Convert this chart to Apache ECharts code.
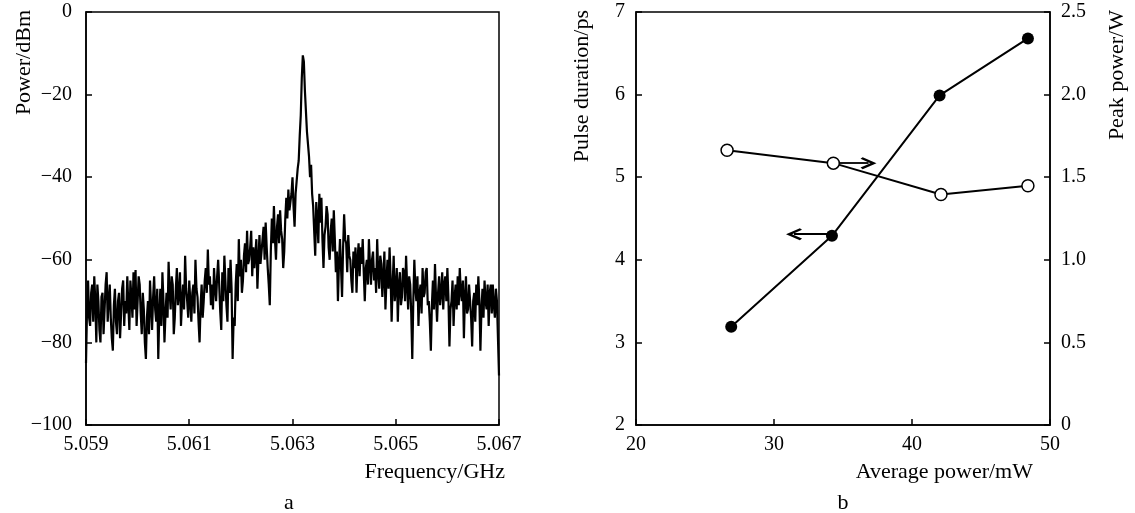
<!DOCTYPE html>
<html><head><meta charset="utf-8">
<script src="https://cdn.jsdelivr.net/npm/echarts@6/dist/echarts.min.js"></script>
<style>html,body{margin:0;padding:0;background:#fff}#c{width:1135px;height:513px}</style>
</head><body><div id="c"></div><script>
// ---- Panel a: RF spectrum (sampling grid + values) ----
const freqStart = 5.059;
const freqStep = 0.00002;
const spectrumDbm = [
  -85,-72, -65,-74, -76,-68, -66,-75, -64,-70, -80,-66, -70,-77, -80,-69, -68,-78, -72,-66,
  -63,-75, -70,-66, -74,-79, -82,-71, -67,-75, -78,-70, -68,-79, -73,-67, -65,-76, -70,-73,
  -64,-71, -77,-65, -69,-74, -63,-72, -62.5,-76, -70,-64, -66,-73, -78,-68, -72,-80, -84,-74,
  -70,-78, -65,-71, -77,-69, -64,-72, -75,-67, -84,-73, -67,-76, -63,-70, -80,-73, -68,-74,
  -60.5,-68, -72,-64, -66,-78, -74,-67, -62,-71, -68,-63, -76,-70, -66,-72, -59,-67, -70,-74,
  -65,-70, -75,-68, -66,-73, -60,-67, -69,-75, -80,-71, -66,-74, -70,-65, -62,-68, -57.5,-66,
  -64,-71, -66,-72, -62,-67, -70,-64, -60,-66, -72.5,-77, -63,-70, -59,-65, -71,-75, -62,-68,
  -60,-67, -84,-74, -76,-66, -61,-70, -55,-64, -60,-68, -65,-59, -56,-63, -53,-61, -60,-57,
  -53,-64, -57,-62, -62,-55, -67,-60, -54,-61, -58,-55, -52,-60, -51,-57, -62,-66, -71,-58,
  -50,-56, -47,-55, -60,-52, -49,-56, -48,-53, -55,-62, -58,-50, -45,-50, -43,-48, -46,-44,
  -40,-47, -52,-44, -41,-38, -36,-30, -25,-16, -10.5,-12, -19,-24, -29,-32, -35,-40, -37,-44,
  -47,-53, -59,-46, -50,-56, -44,-51, -45,-55, -62,-54, -52,-47, -49,-57, -60,-53, -50,-58,
  -48,-55, -63,-58, -70,-61, -55,-62, -69,-57, -49,-55, -56,-63, -54,-59, -60,-65, -68,-58,
  -62,-57, -68,-60, -56,-64, -57,-61, -55,-63, -70,-62, -60,-66, -55,-61, -66,-60, -58,-65,
  -62,-68, -55,-63, -67,-59, -61,-69, -64,-58, -72,-65, -60,-67, -57,-64, -75,-66, -59,-70,
  -67,-62, -75,-66, -63,-71, -69,-62, -63,-70, -59,-66, -72,-64, -66,-73, -84,-70, -60,-67,
  -70,-64, -76,-68, -66,-73, -62,-69, -68,-63, -62,-71, -70,-75, -82,-71, -65,-72, -61,-69,
  -75,-68, -64,-71, -68,-63, -72,-66, -64,-70, -62,-69, -81,-72, -70,-65, -76,-69, -66,-72,
  -64,-71, -62,-68, -70,-65, -79,-69, -64,-73, -72,-66, -66,-74, -81,-70, -68,-75, -66,-71,
  -64,-70, -82,-72, -67,-74, -65,-70, -72,-66, -76,-68, -66,-73, -66,-71, -74,-67, -70,-79,
  -88
];
const freqTicks = [5.059, 5.061, 5.063, 5.065, 5.067];

// ---- Panel b ----
const avgPowerFilled = [26.9, 34.2, 42.0, 48.4];
const pulseDuration = [3.19, 4.29, 5.99, 6.68];
const avgPowerOpen = [26.6, 34.3, 42.1, 48.4];
const peakPower = [1.663, 1.585, 1.395, 1.448];
// arrows: [x start, x end, y]
const arrowPulse = [34.2, 31.45, 4.31];
const arrowPeak = [34.7, 36.85, 1.585];

const FONT = '"Liberation Serif", "Times New Roman", serif';
const FS = 20;
const NFS = 22;
const minusFmt = v => v < 0 ? '\u2212' + Math.abs(v) : String(v);
const axisLineStyle = { color: '#000', width: 1.5 };
const chevron = 'path://M50,0 L100,78 L86,90 L50,34 L14,90 L0,78 Z';

const chart = echarts.init(document.getElementById('c'), null, { renderer: 'canvas' });

function yNameText(text, x, y) {
  return { type: 'text', x: x, y: y, rotation: Math.PI / 2,
    style: { text: text, fill: '#000', font: NFS + 'px ' + FONT, align: 'right', verticalAlign: 'middle' } };
}
function hText(text, x, y, align) {
  return { type: 'text', x: x, y: y,
    style: { text: text, fill: '#000', font: NFS + 'px ' + FONT, align: align, verticalAlign: 'middle' } };
}

chart.setOption({
  animation: false,
  backgroundColor: '#fff',
  textStyle: { fontFamily: FONT, color: '#000' },
  grid: [
    { left: 86, top: 12, width: 413, height: 413, show: true, borderColor: '#000', borderWidth: 1.5, backgroundColor: 'transparent' },
    { left: 636, top: 12, width: 414, height: 413, show: true, borderColor: '#000', borderWidth: 1.5, backgroundColor: 'transparent' }
  ],
  xAxis: [
    { type: 'value', gridIndex: 0, min: 5.059, max: 5.067,
      axisLine: { onZero: false, lineStyle: axisLineStyle },
      axisTick: { inside: true, length: 6, customValues: freqTicks, lineStyle: axisLineStyle },
      axisLabel: { customValues: freqTicks, formatter: v => v.toFixed(3), color: '#000', fontFamily: FONT, fontSize: FS, margin: 10 },
      splitLine: { show: false } },
    { type: 'value', gridIndex: 1, min: 20, max: 50, interval: 10,
      axisLine: { onZero: false, lineStyle: axisLineStyle },
      axisTick: { inside: true, length: 6, lineStyle: axisLineStyle },
      axisLabel: { color: '#000', fontFamily: FONT, fontSize: FS, margin: 10 },
      splitLine: { show: false } }
  ],
  yAxis: [
    { type: 'value', gridIndex: 0, min: -100, max: 0, interval: 20,
      axisLine: { show: true, onZero: false, lineStyle: axisLineStyle },
      axisTick: { show: true, inside: true, length: 6, lineStyle: axisLineStyle },
      axisLabel: { formatter: minusFmt, color: '#000', fontFamily: FONT, fontSize: FS, margin: 14 },
      splitLine: { show: false } },
    { type: 'value', gridIndex: 1, min: 2, max: 7, interval: 1, position: 'left',
      axisLine: { show: true, onZero: false, lineStyle: axisLineStyle },
      axisTick: { show: true, inside: true, length: 6, lineStyle: axisLineStyle },
      axisLabel: { color: '#000', fontFamily: FONT, fontSize: FS, margin: 11 },
      splitLine: { show: false } },
    { type: 'value', gridIndex: 1, min: 0, max: 2.5, interval: 0.5, position: 'right',
      axisLine: { show: true, onZero: false, lineStyle: axisLineStyle },
      axisTick: { show: true, inside: true, length: 6, lineStyle: axisLineStyle },
      axisLabel: { formatter: v => v === 0 ? '0' : v.toFixed(1), color: '#000', fontFamily: FONT, fontSize: FS, margin: 11 },
      splitLine: { show: false } }
  ],
  series: [
    { type: 'line', xAxisIndex: 0, yAxisIndex: 0, showSymbol: false, silent: true,
      data: spectrumDbm.map((v, i) => [freqStart + i * freqStep, v]),
      lineStyle: { color: '#000', width: 2.2, join: 'miter', miterLimit: 3 } },
    { type: 'line', xAxisIndex: 1, yAxisIndex: 1, symbol: 'circle', symbolSize: 12,
      data: avgPowerFilled.map((x, i) => [x, pulseDuration[i]]),
      itemStyle: { color: '#000' }, lineStyle: { color: '#000', width: 2 }, z: 3,
      markLine: { silent: true, symbol: ['none', chevron], symbolSize: [12, 16],
        lineStyle: { color: '#000', width: 1.8, type: 'solid' }, label: { show: false },
        data: [[{ coord: [arrowPulse[0], arrowPulse[2]] }, { coord: [arrowPulse[1], arrowPulse[2]] }]] } },
    { type: 'line', xAxisIndex: 1, yAxisIndex: 2, symbol: 'circle', symbolSize: 12,
      data: avgPowerOpen.map((x, i) => [x, peakPower[i]]),
      itemStyle: { color: '#fff', borderColor: '#000', borderWidth: 1.5 }, lineStyle: { color: '#000', width: 2 }, z: 4,
      markLine: { silent: true, symbol: ['none', chevron], symbolSize: [12, 16],
        lineStyle: { color: '#000', width: 1.8, type: 'solid' }, label: { show: false },
        data: [[{ coord: [arrowPeak[0], arrowPeak[2]] }, { coord: [arrowPeak[1], arrowPeak[2]] }]] } }
  ],
  graphic: [
    yNameText('Power/dBm', 24, 10),
    yNameText('Pulse duration/ps', 582, 10),
    yNameText('Peak power/W', 1117, 10),
    hText('Frequency/GHz', 505, 472, 'right'),
    hText('Average power/mW', 1033, 472, 'right'),
    hText('a', 289, 503, 'center'),
    hText('b', 843, 503, 'center')
  ]
});
</script></body></html>
